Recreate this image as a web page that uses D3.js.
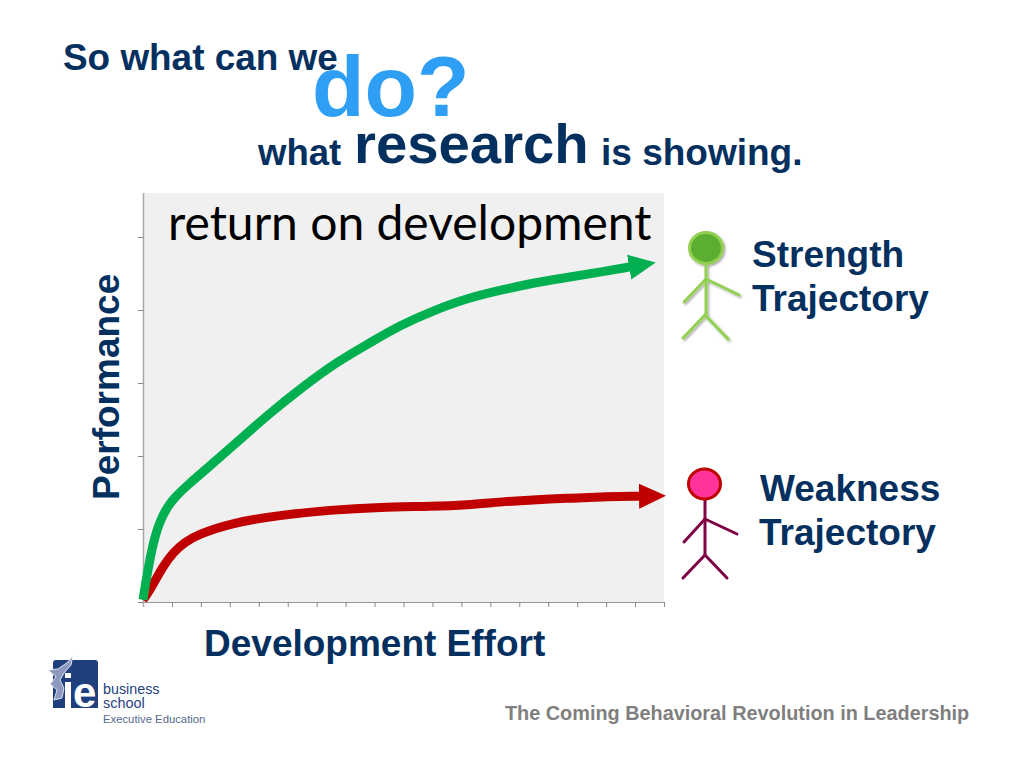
<!DOCTYPE html>
<html><head><meta charset="utf-8">
<script src="https://cdn.jsdelivr.net/npm/d3@7/dist/d3.min.js"></script>
<style>html,body{margin:0;padding:0;background:#fff}svg{display:block}text{font-family:"Liberation Sans",Arial,sans-serif}</style>
</head><body><div id="c"></div>
<script>
const greenX=[0,.07,.31,.55,.83,1.11,1.59,2.07,3.25,4.39,5.53,6.70,7.84,8.88,10.02,11.19,12.33,13.47,14.65,15.79,16.83];
const greenY=[.03,.21,.75,1.08,1.30,1.44,1.62,1.78,2.19,2.59,2.95,3.29,3.55,3.79,3.99,4.16,4.27,4.37,4.445,4.52,4.59];
const redX=[0,.24,.69,1.04,1.45,1.87,3.01,4.73,6.46,8.19,10.02,11.19,12.33,13.47,14.65,15.79,17.17];
const redY=[.03,.16,.49,.68,.82,.92,1.08,1.19,1.26,1.30,1.31,1.33,1.37,1.40,1.42,1.44,1.45];
const xTicks=d3.range(0,19);
const yTicks=[0,1,2,3,4,5];

const svg=d3.select('#c').append('svg').attr('width',1024).attr('height',768);
const defs=svg.append('defs');
const f=defs.append('filter').attr('id','sh').attr('x','-30%').attr('y','-30%').attr('width','170%').attr('height','170%');
f.append('feDropShadow').attr('dx',1.5).attr('dy',1.5).attr('stdDeviation',1.2).attr('flood-color','#000').attr('flood-opacity',.35);

const x=d3.scaleLinear().domain([0,18]).range([143,664]);
const y=d3.scaleLinear().domain([0,5]).range([602,237]);

svg.append('rect').attr('x',143).attr('y',193).attr('width',521).attr('height',409).attr('fill','#f0f0f0');

const gx=svg.append('g').attr('transform','translate(0,602)').call(d3.axisBottom(x).tickValues(xTicks).tickSize(5).tickFormat(''));
const gy=svg.append('g').attr('transform','translate(143,0)').call(d3.axisLeft(y).tickValues(yTicks).tickSize(5).tickFormat(''));
gx.select('.domain').attr('stroke','#999').attr('d','M143,0.5H664');
gy.select('.domain').attr('stroke','#a8a8a8').attr('stroke-width',1.5).attr('d','M0.5,193V607');
svg.selectAll('.tick line').attr('stroke','#888');

function arrow(id,c){
  defs.append('marker').attr('id',id).attr('markerUnits','userSpaceOnUse').attr('markerWidth',30).attr('markerHeight',30)
    .attr('refX',1).attr('refY',15).attr('orient','auto')
    .append('path').attr('d','M0,2.5L27,15L0,27.5Z').attr('fill',c);
}
arrow('ag','#00b050');arrow('ar','#c00000');
const line=d3.line().curve(d3.curveBasis);
function curve(xs,ys,c,w,m){
  svg.append('path').attr('d',line(xs.map((v,i)=>[x(v),y(ys[i])]))).attr('fill','none').attr('stroke',c).attr('stroke-width',w).attr('marker-end','url(#'+m+')');
}
curve(redX,redY,'#c00000',9,'ar');
curve(greenX,greenY,'#00b050',9,'ag');

function txt(s,px,py,size,col,opts={}){
  const t=svg.append('text').attr('x',px).attr('y',py).attr('font-size',size).attr('fill',col).attr('font-weight',opts.w||'bold').text(s);
  if(opts.fam)t.style('font-family',opts.fam);
  if(opts.tf)t.attr('transform',opts.tf);
  return t;
}
const navy='#04305f';
txt('So what can we',63,70,36.9,navy);
txt('do?',312,116,86,'#2e9ff5');
txt('what',258,165,36.5,navy);
txt('research',354,163,56.3,navy);
txt('is showing.',601,165,37,navy);
txt('return on development',168,240,48,'#000',{w:'normal',fam:'Lato'});
txt('Performance',0,0,37,navy,{tf:'translate(119,500) rotate(-90)'});
txt('Development Effort',204,656,37,navy);
txt('Strength',752,267,37,navy);
txt('Trajectory',752,311,37,navy);
txt('Weakness',760,501,37,navy);
txt('Trajectory',759,545,37,navy);
txt('The Coming Behavioral Revolution in Leadership',505,720,19.85,'#7f7f7f');

function figure(cx,cy,rx,ry,fill,stroke,limb,pts,w,shadow){
  const g=svg.append('g');
  if(shadow)g.attr('filter','url(#sh)');
  g.selectAll('path').data(pts).join('path').attr('d',d=>d3.line()(d)).attr('fill','none').attr('stroke',limb).attr('stroke-width',w).attr('stroke-linecap','round');
  g.append('ellipse').attr('cx',cx).attr('cy',cy).attr('rx',rx).attr('ry',ry).attr('fill',fill).attr('stroke',stroke).attr('stroke-width',3);
}
figure(706,248,16.5,15.5,'#5cae32','#92d050','#92d050',[
 [[706,262],[706,315]],[[706,279],[684,302]],[[706,279],[739,295]],[[705,315],[683,338]],[[705,315],[728,339]]],3,true);
figure(704.5,484,16,15,'#ff3399','#c00000','#7f0045',[
 [[705,498],[705,555]],[[705,519],[684,542]],[[705,519],[737,534]],[[705,555],[683,578]],[[705,555],[727,578]]],3,false);

// logo
const lg=svg.append('g');
lg.append('path').attr('d','M56,660H95Q98,660 98,663V708H53V663Q53,660 56,660Z').attr('fill','#1f3f7f');
lg.append('path').attr('d','M73,655L71,665L64,673L60,680L64,688L62,698L54,700L57,690L50,684L56,677L48,670L58,669L68,662Z').attr('fill','#8e99c0').attr('stroke','#fff').attr('stroke-width',.8);
lg.append('rect').attr('x',65).attr('y',673).attr('width',6).attr('height',5).attr('fill','#fff');
lg.append('rect').attr('x',65).attr('y',682).attr('width',6).attr('height',26).attr('fill','#fff');
txt('e',73,707,42,'#fff');
txt('business',103,694,14.3,'#1f3f7f',{w:'normal'});
txt('school',103,708,14.4,'#1f3f7f',{w:'normal'});
txt('Executive Education',103,723,11.3,'#56698c',{w:'normal'});
</script></body></html>
